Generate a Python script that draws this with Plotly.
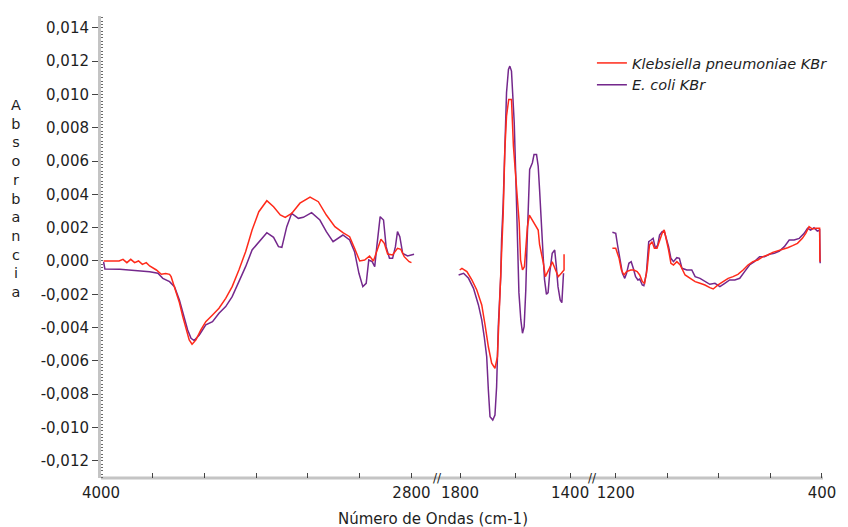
import plotly.graph_objects as go

# ---------------- data (wavenumber cm-1, absorbance) ----------------
kp_seg1_wn = [3990, 3960, 3930, 3915, 3900, 3885, 3870, 3855, 3840, 3825,
              3812, 3786, 3767, 3750, 3735, 3729, 3723, 3710, 3697, 3684,
              3671, 3659, 3648, 3633, 3614, 3595, 3569, 3544, 3518, 3493,
              3467, 3441, 3416, 3390, 3359, 3333, 3307, 3288, 3263, 3231,
              3192, 3160, 3129, 3096, 3065, 3039, 3020, 3000, 2981, 2962,
              2947, 2930, 2918, 2905, 2892, 2873, 2854, 2841, 2828, 2809, 2800]
kp_seg1_abs = [0.0, 0.0, 0.0, 0.0001, -0.0001, 0.0001, -0.0001, 0.0, -0.0002, -0.0001,
               -0.0003, -0.00054, -0.0008, -0.00075, -0.0008, -0.00094, -0.00124, -0.00174, -0.0025, -0.00334,
               -0.00414, -0.00474, -0.0050, -0.00474, -0.00414, -0.00364, -0.00324, -0.00284, -0.00224, -0.00154,
               -0.00054, 0.00056, 0.00186, 0.00296, 0.00362, 0.00326, 0.00276, 0.00262, 0.00286, 0.00347,
               0.00383, 0.00356, 0.00276, 0.00206, 0.0017, 0.00146, 0.00076, 0.0, 0.00006, 0.0003,
               0.0, 0.00076, 0.0013, 0.00106, 0.00042, 0.00036, 0.00076, 0.0007, 0.00026, -0.00004, -0.0001]

ec_seg1_wn = [3990, 3985, 3927, 3870, 3839, 3812, 3780, 3761, 3735, 3716,
              3697, 3678, 3665, 3652, 3640, 3620, 3595, 3569, 3544, 3518,
              3493, 3467, 3441, 3416, 3384, 3359, 3333, 3314, 3301, 3282,
              3263, 3237, 3218, 3186, 3154, 3129, 3103, 3084, 3065, 3039,
              3020, 3003, 2988, 2975, 2965, 2952, 2942, 2934, 2921, 2908,
              2898, 2885, 2873, 2862, 2854, 2845, 2834, 2815, 2790]
ec_seg1_abs = [-0.00006, -0.00048, -0.0005, -0.00055, -0.00058, -0.00064, -0.00074, -0.00104, -0.00124, -0.00154,
               -0.00234, -0.00334, -0.00414, -0.00464, -0.00478, -0.00444, -0.00384, -0.00364, -0.00314, -0.00274,
               -0.00214, -0.00124, -0.00034, 0.00066, 0.00126, 0.0017, 0.00142, 0.00086, 0.00082, 0.00206,
               0.00286, 0.00256, 0.00262, 0.0029, 0.00246, 0.00176, 0.00116, 0.00136, 0.00156, 0.00126,
               0.00056, -0.00074, -0.00154, -0.00134, 0.00006, -0.00004, -0.00034, 0.00086, 0.00266, 0.00246,
               0.00086, 0.00016, 0.00016, 0.00086, 0.00176, 0.00146, 0.00046, 0.0003, 0.0004]

kp_seg2_wn = [1801, 1793, 1775, 1757, 1739, 1721, 1709, 1697, 1685, 1673,
              1664, 1657, 1649, 1643, 1637, 1631, 1623, 1613, 1606, 1595,
              1585, 1580, 1573, 1566, 1555, 1548, 1537, 1529, 1516, 1511,
              1497, 1490, 1483, 1472, 1465, 1454, 1443, 1432, 1422, 1422]
kp_seg2_abs = [-0.00054, -0.00044, -0.00064, -0.00114, -0.00174, -0.00264, -0.00384, -0.00515, -0.00614, -0.00644,
               -0.00575, -0.00274, 0.00126, 0.0029, 0.0067, 0.0087, 0.0097, 0.0097, 0.0069, 0.0047,
               0.0023, 0.00006, -0.00054, -0.00034, 0.00206, 0.00276, 0.00246, 0.0023, 0.00186, 0.001,
               -0.00014, -0.00094, -0.00074, -0.00034, -0.00004, -0.00054, -0.00094, -0.00074, -0.00054, 0.0004]

ec_seg2_wn = [1805, 1787, 1769, 1751, 1733, 1721, 1712, 1703, 1697, 1691,
              1681, 1673, 1667, 1661, 1652, 1649, 1643, 1637, 1631, 1624,
              1619, 1613, 1609, 1603, 1597, 1592, 1586, 1579, 1573, 1567,
              1561, 1556, 1551, 1547, 1537, 1531, 1522, 1516, 1511, 1504,
              1498, 1493, 1486, 1480, 1474, 1465, 1456, 1450, 1444, 1436,
              1430, 1424]
ec_seg2_abs = [-0.00084, -0.00074, -0.00104, -0.00164, -0.00264, -0.00354, -0.00455, -0.00575, -0.00775, -0.00935,
               -0.00955, -0.00925, -0.00755, -0.00395, -0.00094, 0.00126, 0.0035, 0.0075, 0.0101, 0.0115,
               0.0117, 0.0114, 0.0103, 0.0083, 0.0049, 0.00126, -0.0019, -0.00354, -0.00434, -0.00394,
               -0.00174, 0.00126, 0.0043, 0.0055, 0.0059, 0.0064, 0.0064, 0.0057, 0.0043, 0.0017,
               0.0003, -0.0011, -0.002, -0.0019, -0.0007, 0.00046, 0.00066, -0.00034, -0.00154, -0.00234,
               -0.0025, -0.00074]

kp_seg3_wn = [1213, 1200, 1187, 1178, 1168, 1158, 1142, 1130, 1117, 1107,
              1097, 1088, 1078, 1069, 1059, 1050, 1040, 1030, 1020, 1012,
              1004, 995, 986, 976, 963, 950, 931, 912, 892, 873,
              854, 835, 822, 803, 783, 764, 745, 726, 706, 687,
              668, 649, 629, 610, 591, 572, 553, 533, 514, 495,
              476, 463, 450, 437, 424, 412, 409, 408]
kp_seg3_abs = [0.00076, 0.00076, 0.00016, -0.00054, -0.00084, -0.00064, -0.00054, -0.00054, -0.00064, -0.00084,
               -0.00124, -0.00134, -0.00044, 0.00096, 0.00116, 0.00076, 0.00076, 0.00126, 0.00166, 0.00186,
               0.00136, 0.00066, -0.00014, -0.00024, -0.00004, -0.00024, -0.00084, -0.00104, -0.00124, -0.00134,
               -0.00144, -0.0016, -0.00168, -0.00144, -0.00124, -0.00104, -0.00094, -0.0008, -0.00054, -0.00024,
               -0.00004, 0.00006, 0.00026, 0.00036, 0.00052, 0.0006, 0.00072, 0.0008, 0.00092, 0.00106,
               0.00136, 0.00166, 0.00206, 0.00192, 0.00196, 0.00196, 0.00196, -0.00004]

ec_seg3_wn = [1213, 1200, 1193, 1183, 1174, 1165, 1158, 1149, 1140, 1132,
              1123, 1114, 1107, 1097, 1091, 1081, 1072, 1063, 1055, 1046,
              1037, 1030, 1020, 1012, 1004, 995, 986, 976, 963, 953,
              943, 924, 905, 892, 873, 854, 835, 815, 796, 777,
              758, 738, 719, 700, 681, 662, 642, 623, 604, 585,
              565, 546, 527, 508, 488, 469, 456, 444, 431, 418,
              409, 407]
ec_seg3_abs = [0.00172, 0.00166, 0.00096, 0.00016, -0.00074, -0.00104, -0.00074, -0.00014, -0.00004, -0.00044,
               -0.00094, -0.00114, -0.00108, -0.00144, -0.00148, -0.00074, 0.00116, 0.00126, 0.00136, 0.00076,
               0.00096, 0.00156, 0.00176, 0.0018, 0.00136, 0.00086, 0.00016, -0.00004, 0.0002, 0.00016,
               -0.00044, -0.00054, -0.00054, -0.00094, -0.00104, -0.00124, -0.0014, -0.00134, -0.00154, -0.00134,
               -0.00114, -0.00114, -0.00104, -0.00064, -0.00024, -0.00004, 0.00026, 0.00026, 0.0004, 0.00046,
               0.0006, 0.00086, 0.00126, 0.00126, 0.00136, 0.00166, 0.00196, 0.00186, 0.002, 0.0018,
               0.00186, -0.00014]

series_names = ["<i>Klebsiella pneumoniae KBr</i>", "<i>E. coli KBr</i>"]
y_tick_vals = [-0.012, -0.010, -0.008, -0.006, -0.004, -0.002, 0.0,
               0.002, 0.004, 0.006, 0.008, 0.010, 0.012, 0.014]
y_tick_text = ["-0,012", "-0,010", "-0,008", "-0,006", "-0,004", "-0,002", "0,000",
               "0,002", "0,004", "0,006", "0,008", "0,010", "0,012", "0,014"]
x1_ticks = [4000, 3800, 3600, 3400, 3200, 3000, 2800]
x1_text = ["4000", "", "", "", "", "", "2800"]
x2_ticks = [1800, 1600, 1400]
x2_text = ["1800", "", "1400"]
x3_ticks = [1200, 1000, 800, 600, 400]
x3_text = ["1200", "", "", "", "400"]

RED = "#ff2a1a"
PURPLE = "#74288c"
FONT = "DejaVu Sans, Arial, sans-serif"
TXT = "#1e1e1e"

fig = go.Figure()

segments = [
    ("x", ec_seg1_wn, ec_seg1_abs, kp_seg1_wn, kp_seg1_abs),
    ("x2", ec_seg2_wn, ec_seg2_abs, kp_seg2_wn, kp_seg2_abs),
    ("x3", ec_seg3_wn, ec_seg3_abs, kp_seg3_wn, kp_seg3_abs),
]
for i, (xa, ewn, eab, kwn, kab) in enumerate(segments):
    fig.add_trace(go.Scatter(x=ewn, y=eab, xaxis=xa, yaxis="y", mode="lines",
                             line=dict(color=PURPLE, width=1.5), name=series_names[1],
                             legendgroup="ec", showlegend=(i == 0), legendrank=2))
    fig.add_trace(go.Scatter(x=kwn, y=kab, xaxis=xa, yaxis="y", mode="lines",
                             line=dict(color=RED, width=1.5), name=series_names[0],
                             legendgroup="kp", showlegend=(i == 0), legendrank=1))

W, H = 848, 527
L, R, T, B = 101, 19, 16, 49
pw = W - L - R
ph = H - T - B

def px(xp):
    return (xp - L) / pw

def py(yp):
    return (H - B - yp) / ph

xcommon = dict(showgrid=False, zeroline=False, showline=False, ticks="inside", ticklen=5,
               tickcolor="#444", tickwidth=1, ticklabelstandoff=4,
               tickfont=dict(family=FONT, size=15, color=TXT), anchor="y")

fig.update_layout(
    width=W, height=H,
    margin=dict(l=L, r=R, t=T, b=B),
    paper_bgcolor="white", plot_bgcolor="white",
    showlegend=True,
    legend=dict(x=px(596), y=py(47), xanchor="left", yanchor="top",
                bgcolor="rgba(0,0,0,0)", font=dict(family=FONT, size=14.5, color=TXT),
                tracegroupgap=0, itemwidth=30),
    xaxis=dict(domain=[0, px(437)], range=[4000, 2712], tickvals=x1_ticks, ticktext=x1_text, **xcommon),
    xaxis2=dict(domain=[px(443), px(594)], range=[1872, 1328], tickvals=x2_ticks, ticktext=x2_text, **xcommon),
    xaxis3=dict(domain=[px(600), 1], range=[1277, 396], tickvals=x3_ticks, ticktext=x3_text, **xcommon),
    yaxis=dict(range=[-0.01303, 0.01471], tickvals=y_tick_vals, ticktext=y_tick_text,
               showgrid=False, zeroline=False, showline=True, linecolor="#c4c4c4", linewidth=3,
               ticks="outside", ticklen=6, tickcolor="#444",
               minor=dict(dtick=0.0002, tick0=0, ticks="inside", ticklen=2, tickcolor="#666", showgrid=False),
               tickfont=dict(family=FONT, size=15, color=TXT), anchor="x"),
    shapes=[dict(type="line", xref="paper", yref="paper", x0=0, x1=1, y0=0, y1=0,
                 line=dict(color="#c4c4c4", width=3), layer="below")],
    annotations=[
        dict(text="A<br>b<br>s<br>o<br>r<br>b<br>a<br>n<br>c<br>i<br>a", xref="paper", yref="paper",
             x=px(15), y=py(199), showarrow=False, xanchor="center", yanchor="middle",
             font=dict(family=FONT, size=14.4, color=TXT)),
        dict(text="Número de Ondas (cm-1)", xref="paper", yref="paper",
             x=px(436), y=py(519), showarrow=False, xanchor="center", yanchor="middle",
             font=dict(family=FONT, size=15, color=TXT)),
        dict(text="//", xref="paper", yref="paper", x=px(440), y=0, showarrow=False,
             xanchor="center", yanchor="middle", font=dict(family=FONT, size=12, color="#222")),
        dict(text="//", xref="paper", yref="paper", x=px(597), y=0, showarrow=False,
             xanchor="center", yanchor="middle", font=dict(family=FONT, size=12, color="#222")),
    ],
)

fig.write_html("out.html")
